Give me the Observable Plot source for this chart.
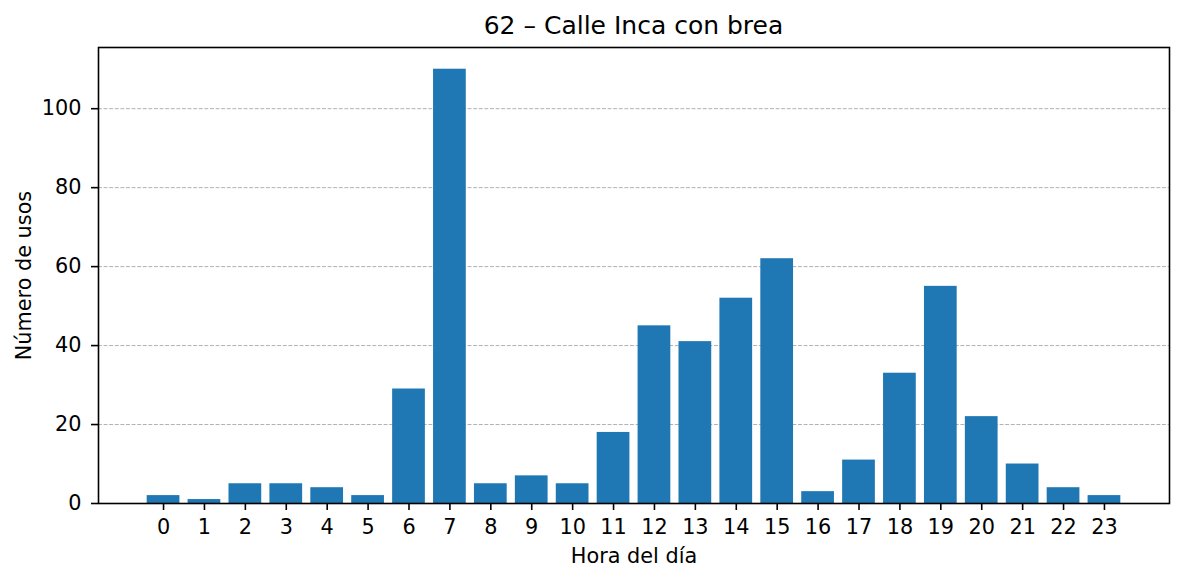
<!DOCTYPE html>
<html>
<head>
<meta charset="utf-8">
<script src="https://cdn.jsdelivr.net/npm/d3@7"></script>
<script src="https://cdn.jsdelivr.net/npm/@observablehq/plot@0.6"></script>
<style>
  body { margin: 0; background: #fff; font-family: "DejaVu Sans", sans-serif; }
  #title { height: 27px; padding-top: 13px; margin-left: 98px; width: 1071px; text-align: center;
           font-size: 25px; line-height: 25px; color: #000; white-space: nowrap; }
  svg { display: block; }
</style>
</head>
<body>
<div id="title">62 – Calle Inca con brea</div>
<div id="chart"></div>
<script>
const hours = [0, 1, 2, 3, 4, 5, 6, 7, 8, 9, 10, 11, 12, 13, 14, 15, 16, 17, 18, 19, 20, 21, 22, 23];
const counts = [2, 1, 5, 5, 4, 2, 29, 110, 5, 7, 5, 18, 45, 41, 52, 62, 3, 11, 33, 55, 22, 10, 4, 2];
const yTicks = [0, 20, 40, 60, 80, 100];
const xLabel = "Hora del día";
const yLabel = "Número de usos";

const data = hours.map((h, i) => ({hour: h, count: counts[i]}));

const chart = Plot.plot({
  width: 1184,
  height: 541,
  marginTop: 7,
  marginBottom: 78,
  marginLeft: 98,
  marginRight: 15,
  style: {fontFamily: "DejaVu Sans, sans-serif", fontSize: "20.8px", color: "#000", background: "#fff"},
  x: {domain: [-1.59, 24.59]},
  y: {domain: [0, 115.5]},
  marks: [
    Plot.gridY(yTicks.filter(t => t > 0), {stroke: "#b0b0b0", strokeOpacity: 1, strokeWidth: 1, strokeDasharray: "3.9,1.7"}),
    Plot.rectY(data, {x1: d => d.hour - 0.4, x2: d => d.hour + 0.4, y1: 0, y2: "count", fill: "#1f77b4"}),
    Plot.axisX(hours, {tickSize: 7, tickPadding: 9, strokeWidth: 1.6, stroke: "#000", fill: "#000", label: null, tickFormat: d => String(d)}),
    Plot.axisY(yTicks, {tickSize: 7, tickPadding: 10, strokeWidth: 1.6, stroke: "#000", fill: "#000", label: null, tickFormat: d => String(d)}),
    Plot.frame({stroke: "#000", strokeWidth: 1.6}),
    Plot.text([xLabel], {text: d => d, frameAnchor: "bottom", lineAnchor: "bottom", textAnchor: "middle", dy: 59, fill: "#000"}),
    Plot.text([yLabel], {text: d => d, frameAnchor: "left", lineAnchor: "bottom", textAnchor: "middle", rotate: -90, dx: -68, fill: "#000"})
  ]
});
document.getElementById("chart").appendChild(chart);
</script>
</body>
</html>
